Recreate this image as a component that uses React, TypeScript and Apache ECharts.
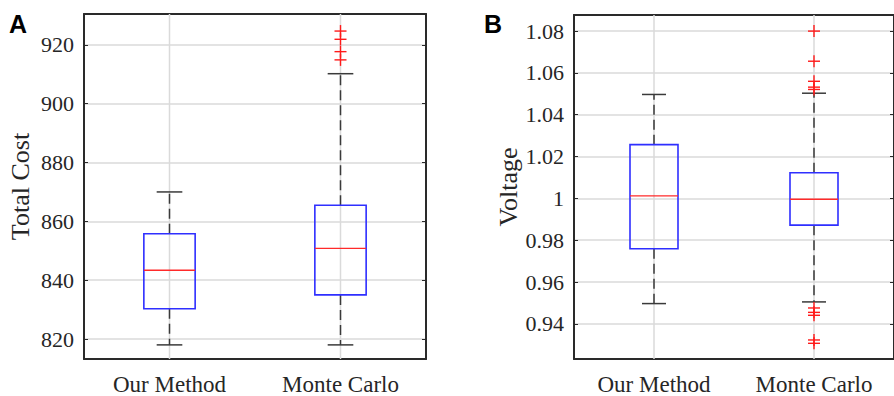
import React, { useEffect, useRef } from "react";
import * as echarts from "echarts";

const categories = ["Our Method", "Monte Carlo"];
// [min whisker, Q1, median, Q3, max whisker]
const costBoxes = [
  [818, 830.3, 843.4, 855.8, 870],
  [818, 835.0, 850.8, 865.5, 910.2],
];
const costOutliers = [924.7, 921.9, 917.7, 914.9];
const voltageBoxes = [
  [0.9497, 0.9759, 1.0012, 1.0257, 1.0497],
  [0.9505, 0.9872, 0.9996, 1.0123, 1.0503],
];
const voltageOutliers = [1.08, 1.0656, 1.056, 1.0532, 1.0521, 0.9476, 0.9455, 0.9441, 0.9323, 0.9307];
const costRange = [813.2, 930.5];
const voltageRange = [0.9232, 1.0877];
const panelLetters = ["A", "B"];
const yTitles = ["Total Cost", "Voltage"];

const SERIF = "Liberation Serif";
const TXT = "#262626";
const GRID = "#dadada";
const BORDER = "#2a2a2a";

function boxItem(params: any, api: any) {
  const cat = api.value(0);
  const [x, yMin] = api.coord([cat, api.value(1)]);
  const yQ1 = api.coord([cat, api.value(2)])[1];
  const yMed = api.coord([cat, api.value(3)])[1];
  const yQ3 = api.coord([cat, api.value(4)])[1];
  const yMax = api.coord([cat, api.value(5)])[1];
  const band = api.size([1, 0])[0];
  const bw = band * 0.3;
  const cw = bw / 2;
  const cs = params.coordSys;
  const dash = { stroke: "#3a3a3a", lineWidth: 1.5, lineDash: [10, 5] };
  const solid = { stroke: "#3a3a3a", lineWidth: 1.5 };
  return {
    type: "group",
    children: [
      { type: "line", shape: { x1: x, y1: cs.y, x2: x, y2: cs.y + cs.height }, style: { stroke: GRID, lineWidth: 1.5 } },
      { type: "line", shape: { x1: x, y1: yQ3, x2: x, y2: yMax }, style: dash },
      { type: "line", shape: { x1: x, y1: yQ1, x2: x, y2: yMin }, style: dash },
      { type: "line", shape: { x1: x - cw / 2, y1: yMax, x2: x + cw / 2, y2: yMax }, style: solid },
      { type: "line", shape: { x1: x - cw / 2, y1: yMin, x2: x + cw / 2, y2: yMin }, style: solid },
      { type: "rect", shape: { x: x - bw / 2, y: yQ3, width: bw, height: yQ1 - yQ3 }, style: { fill: "none", stroke: "#2f2fff", lineWidth: 1.6 } },
      { type: "line", shape: { x1: x - bw / 2, y1: yMed, x2: x + bw / 2, y2: yMed }, style: { stroke: "#ff2a2a", lineWidth: 1.4 } },
    ],
  };
}

function plusItem(params: any, api: any) {
  const [x, y] = api.coord([api.value(0), api.value(1)]);
  const h = 6;
  const st = { stroke: "#ff1a1a", lineWidth: 1.4 };
  return {
    type: "group",
    children: [
      { type: "line", shape: { x1: x - h, y1: y, x2: x + h, y2: y }, style: st },
      { type: "line", shape: { x1: x, y1: y - h, x2: x, y2: y + h }, style: st },
    ],
  };
}

export default function App() {
  const ref = useRef<HTMLDivElement>(null);
  useEffect(() => {
    if (!ref.current) return;
    const chart = echarts.init(ref.current, null, { renderer: "svg" });
    const grids = [
      { left: 84, top: 14, width: 342, height: 346 },
      { left: 574, top: 15, width: 333, height: 346 },
    ];
    const ranges = [costRange, voltageRange];
    const splitNums = [6, 8];
    const nameGaps = [51, 47];
    const xAxis: any[] = [];
    const yAxis: any[] = [];
    grids.forEach((_, g) => {
      xAxis.push({
        type: "category",
        gridIndex: g,
        position: "bottom",
        data: categories,
        axisLine: { lineStyle: { color: BORDER, width: 2 } },
        axisTick: { inside: true, alignWithLabel: true, length: 4, lineStyle: { color: BORDER } },
        axisLabel: { fontFamily: SERIF, fontSize: 23, color: TXT, margin: 14 },
        splitLine: { show: false },
      });
      xAxis.push({
        type: "category",
        gridIndex: g,
        position: "top",
        data: categories,
        axisLine: { lineStyle: { color: BORDER, width: 2 } },
        axisTick: { inside: true, alignWithLabel: true, length: 4, lineStyle: { color: BORDER } },
        axisLabel: { show: false },
        splitLine: { show: false },
      });
      const base = {
        type: "value",
        gridIndex: g,
        min: ranges[g][0],
        max: ranges[g][1],
        splitNumber: splitNums[g],
        axisLine: { show: true, lineStyle: { color: BORDER, width: 2 } },
        axisTick: { show: true, inside: true, length: 4, lineStyle: { color: BORDER } },
      };
      yAxis.push({
        ...base,
        position: "left",
        name: yTitles[g],
        nameLocation: "middle",
        nameRotate: 90,
        nameGap: nameGaps[g],
        nameTextStyle: { fontFamily: SERIF, fontSize: 26, color: TXT },
        axisLabel: { fontFamily: SERIF, fontSize: 22, color: TXT, margin: 10, showMinLabel: false, showMaxLabel: false },
        splitLine: { show: true, lineStyle: { color: GRID, width: 1.5 } },
      });
      yAxis.push({
        ...base,
        position: "right",
        axisLabel: { show: false },
        splitLine: { show: false },
      });
    });
    const boxSets = [costBoxes, voltageBoxes];
    const outSets = [costOutliers, voltageOutliers];
    const series: any[] = [];
    grids.forEach((_, g) => {
      series.push({
        type: "custom",
        xAxisIndex: g * 2,
        yAxisIndex: g * 2,
        renderItem: boxItem,
        encode: { x: 0, y: [1, 2, 3, 4, 5] },
        data: boxSets[g].map((b, i) => [i, ...b]),
        silent: true,
      });
      series.push({
        type: "custom",
        xAxisIndex: g * 2,
        yAxisIndex: g * 2,
        renderItem: plusItem,
        encode: { x: 0, y: 1 },
        data: outSets[g].map((v) => [1, v]),
        silent: true,
      });
    });
    chart.setOption({
      animation: false,
      backgroundColor: "#ffffff",
      grid: grids,
      xAxis,
      yAxis,
      series,
      graphic: [
        { type: "text", left: 9, top: 11, style: { text: panelLetters[0], font: "bold 25px 'Liberation Sans'", fill: "#000" } },
        { type: "text", left: 484, top: 11, style: { text: panelLetters[1], font: "bold 25px 'Liberation Sans'", fill: "#000" } },
      ],
    });
    return () => chart.dispose();
  }, []);
  return <div ref={ref} style={{ position: "fixed", left: 0, top: 0, width: 894, height: 396 }} />;
}
